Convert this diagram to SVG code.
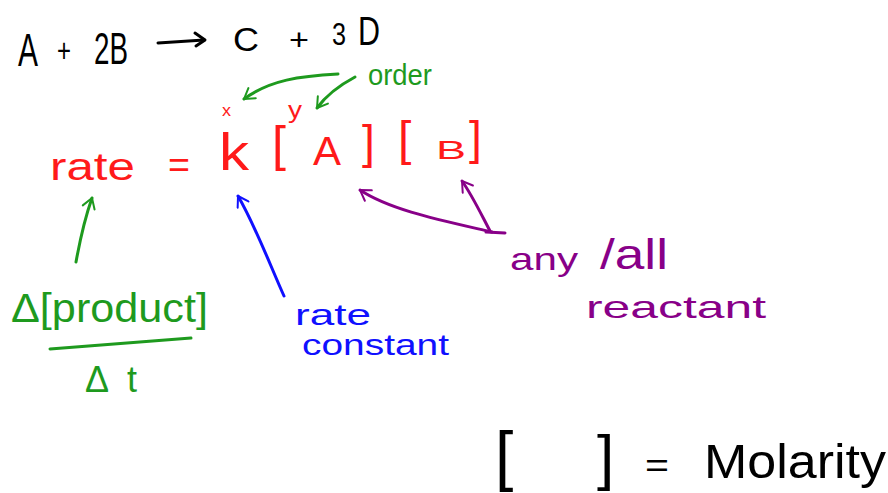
<svg xmlns="http://www.w3.org/2000/svg" width="888" height="493" viewBox="0 0 888 493">
<style>
text{font-family:"Liberation Sans",Arial,sans-serif;}
.k{fill:#000}.r{fill:#ff1a1a}.g{fill:#1e9a1e}.b{fill:#1010ff}.p{fill:#880088}
.ln{fill:none;stroke-width:3;stroke-linecap:round;stroke-linejoin:round}
</style>
<defs>
<marker id="hk" viewBox="0 0 12 12" refX="10" refY="6" markerWidth="5" markerHeight="5" orient="auto" markerUnits="strokeWidth"><path d="M2,1 L10,6 L2,11" fill="none" stroke="context-stroke" stroke-width="1.6" stroke-linecap="round" stroke-linejoin="round"/></marker>
</defs>
<rect width="888" height="493" fill="#fff"/>
<g id="reaction">
<text class="k" x="18" y="66" font-size="46" textLength="20" lengthAdjust="spacingAndGlyphs">A</text>
<text class="k" x="57" y="62" font-size="34" textLength="14" lengthAdjust="spacingAndGlyphs">+</text>
<text class="k" x="94" y="64" font-size="44" textLength="34" lengthAdjust="spacingAndGlyphs">2B</text>
<text class="k" x="233" y="51" font-size="34" textLength="26" lengthAdjust="spacingAndGlyphs">C</text>
<text class="k" x="289" y="50" font-size="30" textLength="20" lengthAdjust="spacingAndGlyphs">+</text>
<text class="k" x="332" y="45" font-size="32" textLength="14" lengthAdjust="spacingAndGlyphs">3</text>
<text class="k" x="358" y="45" font-size="40" textLength="22" lengthAdjust="spacingAndGlyphs">D</text>
</g>
<g id="rate-law">
<text class="r" x="50" y="180" font-size="38" textLength="85" lengthAdjust="spacingAndGlyphs">rate</text>
<text class="r" x="168" y="177" font-size="36" textLength="22" lengthAdjust="spacingAndGlyphs">=</text>
<text class="r" x="219" y="170" font-size="52" textLength="30" lengthAdjust="spacingAndGlyphs">k</text>
<text class="r" x="272" y="161" font-size="50">[</text>
<text class="r" x="313" y="165" font-size="40" textLength="28" lengthAdjust="spacingAndGlyphs">A</text>
<text class="r" x="362" y="158" font-size="46">]</text>
<text class="r" x="222" y="116" font-size="16" textLength="9" lengthAdjust="spacingAndGlyphs">x</text>
<text class="r" x="398" y="155" font-size="48">[</text>
<text class="r" x="436" y="159" font-size="26" textLength="30" lengthAdjust="spacingAndGlyphs">B</text>
<text class="r" x="469" y="154" font-size="46">]</text>
<text class="r" x="288" y="118" font-size="24" textLength="14" lengthAdjust="spacingAndGlyphs">y</text>
</g>
<g id="order-label">
<text class="g" x="368" y="85" font-size="30" textLength="64" lengthAdjust="spacingAndGlyphs">order</text>
</g>
<g id="rate-def">
<text class="g" x="11" y="322" font-size="40" textLength="197" lengthAdjust="spacingAndGlyphs">Δ[product]</text>
<path class="ln" d="M50,349 L191,338" stroke="#1e9a1e"/>
<text class="g" y="392" font-size="36"><tspan x="85">Δ</tspan><tspan x="127">t</tspan></text>
</g>
<g id="rate-constant">
<text class="b" x="295" y="325" font-size="30" textLength="76" lengthAdjust="spacingAndGlyphs">rate</text>
<text class="b" x="302" y="355" font-size="30" textLength="147" lengthAdjust="spacingAndGlyphs">constant</text>
</g>
<g id="reactant-label">
<text class="p" x="510" y="270" font-size="32" textLength="68" lengthAdjust="spacingAndGlyphs">any</text>
<text class="p" x="600" y="269" font-size="42" textLength="68" lengthAdjust="spacingAndGlyphs">/all</text>
<text class="p" x="586" y="318" font-size="32" textLength="180" lengthAdjust="spacingAndGlyphs">reactant</text>
</g>
<g id="molarity">
<text class="k" x="495" y="478" font-size="66">[</text>
<text class="k" x="597" y="478" font-size="62">]</text>
<text class="k" x="645" y="477" font-size="34" textLength="24" lengthAdjust="spacingAndGlyphs">=</text>
<text class="k" x="704" y="478" font-size="48" textLength="182" lengthAdjust="spacingAndGlyphs">Molarity</text>
</g>
<g id="connectors">
<path class="ln" d="M158,43 C175,42 190,41 204,40" stroke="#000"/>
<path class="ln" d="M195,33 L205,40 L196,46" stroke="#000"/>
<path class="ln" d="M338,74 C300,76 270,80 244,99" stroke="#1e9a1e" marker-end="url(#hk)"/>
<path class="ln" d="M355,77 C340,85 325,97 317,108" stroke="#1e9a1e" marker-end="url(#hk)"/>
<path class="ln" d="M76,262 C80,240 86,215 92,198" stroke="#1e9a1e" marker-end="url(#hk)"/>
<path class="ln" d="M284,296 C270,265 255,225 238,196" stroke="#1010ff" marker-end="url(#hk)"/>
<path class="ln" d="M492,232 C440,220 390,210 360,190" stroke="#880088" marker-end="url(#hk)"/>
<path class="ln" d="M490,231 C480,212 472,195 462,181" stroke="#880088" marker-end="url(#hk)"/>
<path class="ln" d="M486,232 L505,233" stroke="#880088"/>
</g>
</svg>
